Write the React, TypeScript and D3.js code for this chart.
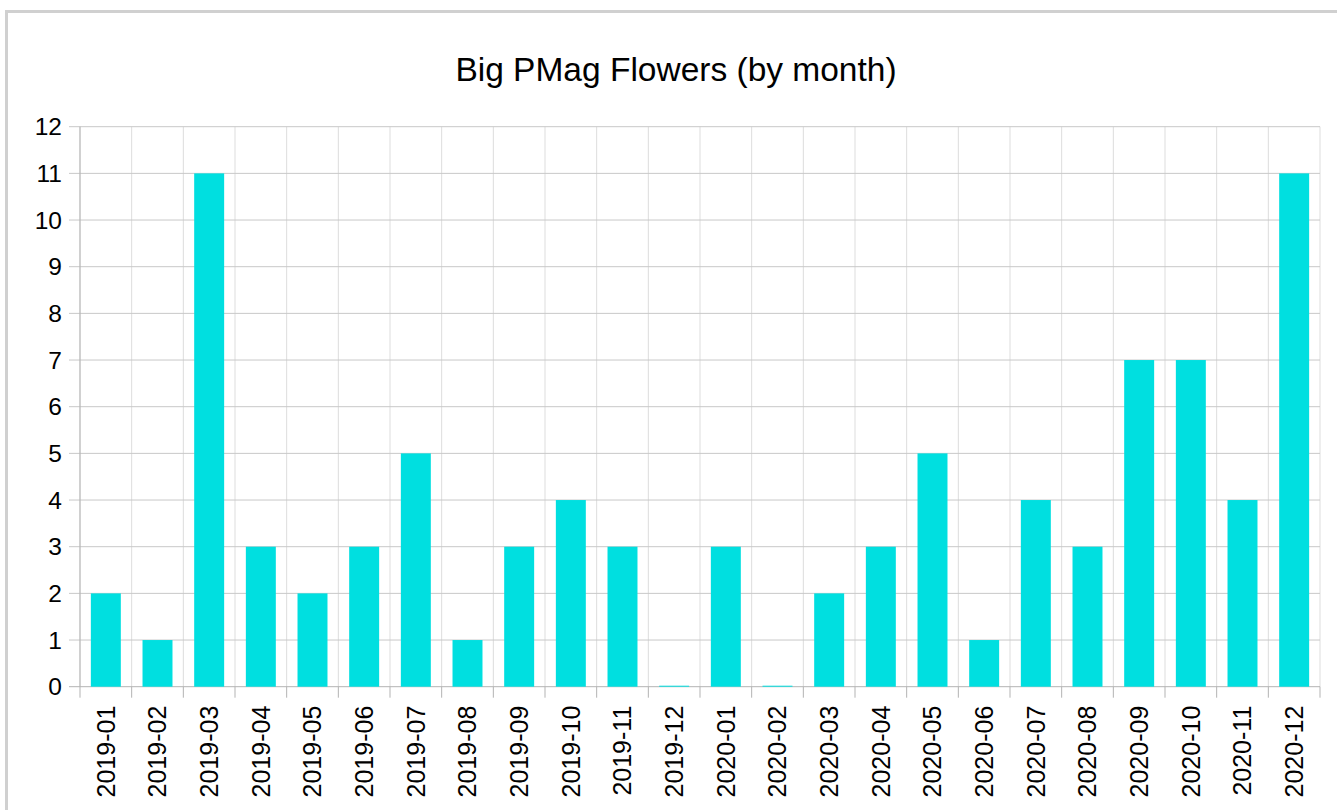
import React from "react";
import * as d3 from "d3";

const months = [
  "2019-01","2019-02","2019-03","2019-04","2019-05","2019-06","2019-07","2019-08","2019-09","2019-10","2019-11","2019-12",
  "2020-01","2020-02","2020-03","2020-04","2020-05","2020-06","2020-07","2020-08","2020-09","2020-10","2020-11","2020-12",
];
const counts = [2,1,11,3,2,3,5,1,3,4,3,0,3,0,2,3,5,1,4,3,7,7,4,11];
const yTicks = [0,1,2,3,4,5,6,7,8,9,10,11,12];
const title = "Big PMag Flowers (by month)";

const W = 1337, H = 810;
const left = 80, right = 1320, top = 126.7, bottom = 686.7;
const font = "'Liberation Sans', Arial, sans-serif";

export default function App() {
  const x = d3.scaleBand<string>().domain(months).range([left, right]).paddingInner(0).paddingOuter(0);
  const y = d3.scaleLinear().domain([0, 12]).range([bottom, top]);
  const bw = x.bandwidth();
  const barW = bw * 0.58;
  const edges = months.map((m) => x(m) as number).concat([right]);
  return (
    <svg width={W} height={H} style={{ position: "absolute", left: 0, top: 0, background: "#fff" }}>
      <rect x={6.5} y={11.5} width={W} height={H} fill="#fff" stroke="#d0d0d0" strokeWidth={3} />
      <text x={676} y={81} textAnchor="middle" fontFamily={font} fontSize={33.5} fill="#000">{title}</text>
      {edges.map((e, i) => (
        <line key={"vg" + i} x1={e} x2={e} y1={top} y2={bottom} stroke="#dddddd" strokeWidth={1} />
      ))}
      {yTicks.map((t) => (
        <g key={"yt" + t}>
          <line x1={69} x2={right} y1={y(t)} y2={y(t)} stroke={t === 0 ? "#b3b3b3" : "#c8c8c8"} strokeWidth={1} />
          <text x={62} y={y(t)} dy="0.35em" textAnchor="end" fontFamily={font} fontSize={24.5} fill="#000">{t}</text>
        </g>
      ))}
      {edges.map((e, i) => (
        <line key={"xt" + i} x1={e} x2={e} y1={bottom} y2={bottom + 11} stroke="#b3b3b3" strokeWidth={1} />
      ))}
      <line x1={left} x2={left} y1={top} y2={bottom} stroke="#b3b3b3" strokeWidth={1} />
      {months.map((m, i) => {
        const cx = (x(m) as number) + bw / 2;
        const h = Math.max(1, bottom - y(counts[i]));
        return <rect key={"b" + m} x={cx - barW / 2} y={bottom - h} width={barW} height={h} fill="#00dfe0" />;
      })}
      {months.map((m) => {
        const cx = (x(m) as number) + bw / 2;
        return (
          <text key={"xl" + m} transform={`translate(${cx},${bottom + 19}) rotate(-90)`} dy="0.35em" textAnchor="end"
            fontFamily={font} fontSize={25} fill="#000">{m}</text>
        );
      })}
    </svg>
  );
}
